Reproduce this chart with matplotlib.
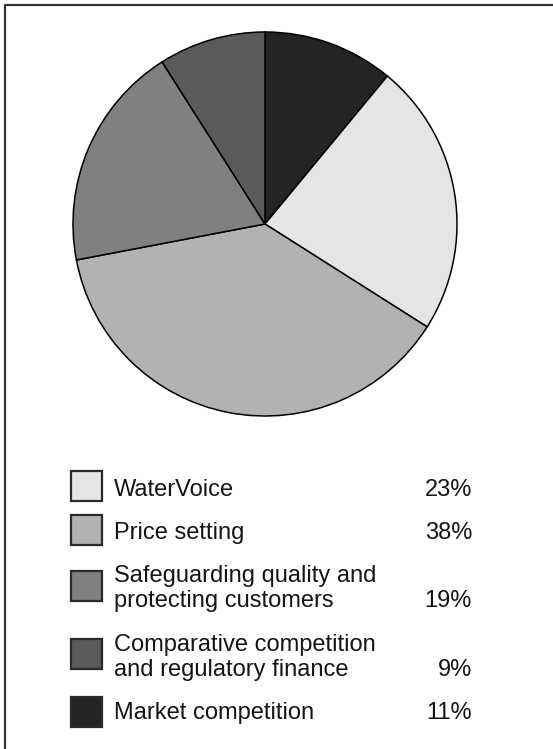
import matplotlib
matplotlib.use("Agg")
import matplotlib.pyplot as plt
from matplotlib.patches import Rectangle
from matplotlib.lines import Line2D

# Expenditure shares, in legend order
categories = [
    "WaterVoice",
    "Price setting",
    "Safeguarding quality and\nprotecting customers",
    "Comparative competition\nand regulatory finance",
    "Market competition",
]
shares = [23, 38, 19, 9, 11]
share_labels = ["23%", "38%", "19%", "9%", "11%"]
colors = ["#e5e5e5", "#b2b2b2", "#808080", "#5a5a5a", "#242424"]

W, H = 553, 749
fig = plt.figure(figsize=(W / 100, H / 100), dpi=100)
ax = fig.add_axes([0, 0, 1, 1])

def py(y):
    """Convert a top-down pixel row into the axes' y coordinate."""
    return H - y

# Pie: clockwise from 12 o'clock, starting with market competition
pie_order = [4, 0, 1, 2, 3]
ax.pie(
    [shares[i] for i in pie_order],
    colors=[colors[i] for i in pie_order],
    startangle=90,
    counterclock=False,
    center=(265, py(224)),
    radius=192,
    wedgeprops=dict(edgecolor="black", linewidth=1.1),
    frame=True,
)
ax.set_xlim(0, W)
ax.set_ylim(0, H)
ax.set_aspect("equal")
ax.axis("off")

# Frame (left and top edges)
ax.add_line(Line2D([5, 5, W], [0, py(5), py(5)], color="#333333", lw=1.6))

font = dict(family=["Liberation Sans", "DejaVu Sans"], fontsize=17, color="#151515")

# Legend rows: box centre and text baselines
box_centres = [486, 530, 586, 654, 712]
text_baselines = [496, 539, 582, 651, 719]
line_step = 25

for i, label in enumerate(categories):
    cy = box_centres[i]
    ax.add_patch(Rectangle((71, py(cy + 15)), 31, 30, facecolor=colors[i],
                           edgecolor="#2a2a2a", linewidth=1.6))
    lines = label.split("\n")
    for k, ln in enumerate(lines):
        ax.text(114, py(text_baselines[i] + k * line_step), ln,
                ha="left", va="baseline", **font)
    last = text_baselines[i] + (len(lines) - 1) * line_step
    ax.text(472, py(last), share_labels[i], ha="right", va="baseline", **font)

fig.savefig("out.png", dpi=100)
